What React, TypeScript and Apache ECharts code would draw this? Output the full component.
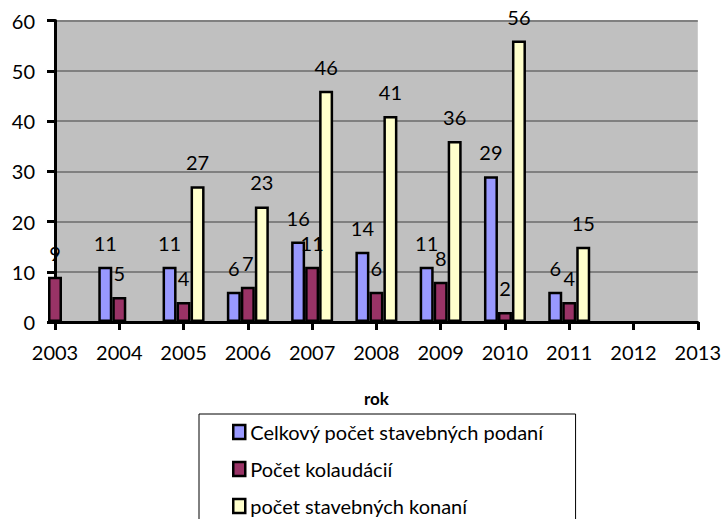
import React, { useEffect, useRef } from "react";
import * as echarts from "echarts";

const years = ["2003", "2004", "2005", "2006", "2007", "2008", "2009", "2010", "2011", "2012", "2013"];
const podania = [null, 11, 11, 6, 16, 14, 11, 29, 6, null, null];
const kolaudacie = [9, 5, 4, 7, 11, 6, 8, 2, 4, null, null];
const konania = [null, null, 27, 23, 46, 41, 36, 56, 15, null, null];
const seriesNames = ["Celkový počet stavebných podaní", "Počet kolaudácií", "počet stavebných konaní"];
const seriesColors = ["#9999FF", "#993366", "#FFFFCC"];
const yTicks = { min: 0, max: 60, interval: 10 };
const xTitle = "rok";

const FONT = "Lato, 'Open Sans', sans-serif";

export default function App() {
  const ref = useRef<HTMLDivElement>(null);
  useEffect(() => {
    if (!ref.current) return;
    const chart = echarts.init(ref.current, undefined, { renderer: "svg" });
    const datasets = [podania, kolaudacie, konania];
    chart.setOption({
      animation: false,
      textStyle: { fontFamily: FONT },
      grid: {
        left: 55,
        right: 26,
        top: 20.5,
        bottom: 197,
        show: true,
        backgroundColor: "#C0C0C0",
        borderWidth: 0,
      },
      xAxis: {
        type: "category",
        data: years,
        boundaryGap: false,
        name: xTitle,
        nameLocation: "middle",
        nameGap: 68,
        nameTextStyle: { fontFamily: FONT, fontSize: 17, fontWeight: "bold", color: "#000" },
        axisLine: { lineStyle: { color: "#000", width: 3 } },
        axisTick: { show: true, length: 8, inside: false, lineStyle: { color: "#000", width: 3 } },
        axisLabel: { fontFamily: FONT, fontSize: 20, color: "#000", margin: 20, interval: 0 },
        splitLine: { show: false },
      },
      yAxis: {
        type: "value",
        min: yTicks.min,
        max: yTicks.max,
        interval: yTicks.interval,
        axisLine: { show: true, lineStyle: { color: "#000", width: 3 } },
        axisTick: { show: true, length: 8, lineStyle: { color: "#000", width: 3 } },
        axisLabel: { fontFamily: FONT, fontSize: 20, color: "#000", margin: 20 },
        splitLine: { show: true, lineStyle: { color: "#808080", width: 2 } },
      },
      legend: {
        orient: "vertical",
        left: 199,
        top: 414,
        height: 140,
        padding: [7, 32, 20, 33],
        itemGap: 15,
        itemWidth: 12,
        itemHeight: 14,
        backgroundColor: "#fff",
        borderColor: "#000",
        borderWidth: 1,
        borderRadius: 0,
        icon: "rect",
        itemStyle: { borderColor: "#000", borderWidth: 2.5 },
        textStyle: { fontFamily: FONT, fontSize: 20, color: "#000", lineHeight: 22 },
        data: seriesNames,
      },
      series: datasets.map((d, i) => ({
        type: "bar",
        name: seriesNames[i],
        data: d,
        barWidth: 14,
        barGap: "0%",
        clip: true,
        itemStyle: { color: seriesColors[i], borderColor: "#000", borderWidth: 2.5 },
        label: {
          show: true,
          position: "top",
          distance: 14,
          fontFamily: FONT,
          fontSize: 20,
          color: "#000",
        },
      })),
    });
    return () => chart.dispose();
  }, []);
  return <div ref={ref} style={{ width: 724, height: 519, position: "absolute", left: 0, top: 0 }} />;
}
